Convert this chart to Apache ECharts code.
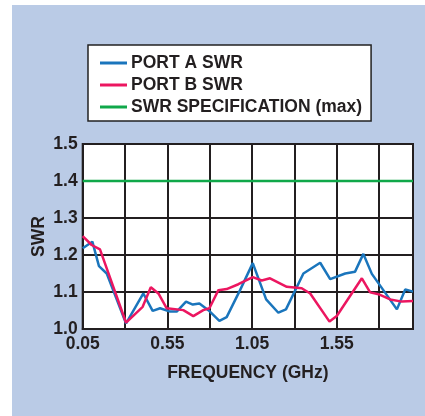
<!DOCTYPE html>
<html><head><meta charset="utf-8">
<script src="https://cdn.jsdelivr.net/npm/echarts@6/dist/echarts.min.js"></script>
<style>html,body{margin:0;padding:0;background:#fff}#c{position:absolute;left:12px;top:5px;width:413px;height:411px;background:#bacbe6}</style>
</head><body><div id="c"></div>
<script>
const seriesNames = ['PORT A SWR', 'PORT B SWR', 'SWR SPECIFICATION (max)'];
const freqA = [0.05,0.107,0.146,0.192,0.306,0.408,0.463,0.507,0.566,0.605,0.66,0.70,0.739,0.792,0.857,0.90,0.979,1.054,1.133,1.205,1.25,1.353,1.452,1.511,1.60,1.658,1.707,1.757,1.905,1.954,2.0];
const swrA  = [1.218,1.236,1.170,1.150,1.015,1.096,1.049,1.056,1.047,1.047,1.074,1.066,1.069,1.051,1.022,1.032,1.105,1.178,1.080,1.044,1.053,1.150,1.179,1.135,1.150,1.155,1.203,1.149,1.053,1.107,1.101];
const freqB = [0.05,0.103,0.152,0.306,0.404,0.452,0.497,0.546,0.644,0.703,0.762,0.798,0.851,0.9,0.969,1.054,1.107,1.156,1.255,1.343,1.393,1.507,1.55,1.698,1.747,1.796,1.865,1.934,2.0];
const swrB  = [1.251,1.227,1.215,1.017,1.060,1.113,1.096,1.056,1.051,1.035,1.051,1.056,1.105,1.108,1.121,1.140,1.131,1.137,1.114,1.110,1.096,1.020,1.035,1.137,1.099,1.094,1.080,1.074,1.076];
const specFreq = [0.05, 2.0];
const specSwr = [1.4, 1.4];
const xTickLabels = ['0.05','0.55','1.05','1.55'];
const yTickLabels = ['1.0','1.1','1.2','1.3','1.4','1.5'];

const zip = (a,b) => a.map((v,i)=>[v,b[i]]);
const font = '"Liberation Sans", Arial, sans-serif';
const fs = 17.5;
const chart = echarts.init(document.getElementById('c'));
chart.setOption({
  animation:false,
  backgroundColor:'#bacbe6',
  textStyle:{fontFamily:font},
  legend:{
    orient:'vertical', left:76, top:40,
    backgroundColor:'#fff', borderColor:'#222', borderWidth:1.5,
    padding:[9,9,5,12], itemGap:4, itemWidth:27, itemHeight:3, icon:'rect',
    textStyle:{fontFamily:font, fontWeight:'bold', fontSize:fs, color:'#231f20', padding:[0,0,0,-1]},
    data:seriesNames
  },
  grid:{left:70.7, top:139, right:12, bottom:87, show:true, backgroundColor:'#fff', borderColor:'#231f20', borderWidth:2},
  xAxis:{
    type:'value', min:0.05, max:2.0, interval:0.25,
    axisLine:{show:true, lineStyle:{color:'#231f20', width:2}},
    axisTick:{show:false},
    splitLine:{show:true, lineStyle:{color:'#231f20', width:2}},
    axisLabel:{fontFamily:font, fontWeight:'bold', fontSize:fs, color:'#231f20', margin:6,
      formatter:v=>{const s=v.toFixed(2); return xTickLabels.includes(s)?s:'';}},
    name:'FREQUENCY (GHz)', nameLocation:'middle', nameGap:35,
    nameTextStyle:{fontFamily:font, fontWeight:'bold', fontSize:fs, color:'#231f20'}
  },
  yAxis:{
    type:'value', min:1.0, max:1.5, interval:0.1,
    axisLine:{show:true, lineStyle:{color:'#231f20', width:2}},
    axisTick:{show:false},
    splitLine:{show:true, lineStyle:{color:'#231f20', width:2}},
    axisLabel:{fontFamily:font, fontWeight:'bold', fontSize:fs, color:'#231f20', margin:5,
      formatter:v=>{const s=v.toFixed(1); return yTickLabels.includes(s)?s:'';}},
    name:'SWR', nameLocation:'middle', nameGap:35, nameRotate:90, nameMoveOverlap:false,
    nameTextStyle:{fontFamily:font, fontWeight:'bold', fontSize:fs, color:'#231f20'}
  },
  series:[
    {name:seriesNames[0], type:'line', data:zip(freqA,swrA), showSymbol:false, lineStyle:{color:'#1a75bc', width:2.5}, itemStyle:{color:'#1a75bc'}, z:3},
    {name:seriesNames[1], type:'line', data:zip(freqB,swrB), showSymbol:false, lineStyle:{color:'#ec1660', width:2.5}, itemStyle:{color:'#ec1660'}, z:4},
    {name:seriesNames[2], type:'line', data:zip(specFreq,specSwr), showSymbol:false, lineStyle:{color:'#10a84a', width:2.5}, itemStyle:{color:'#10a84a'}, z:2}
  ]
});
</script></body></html>
